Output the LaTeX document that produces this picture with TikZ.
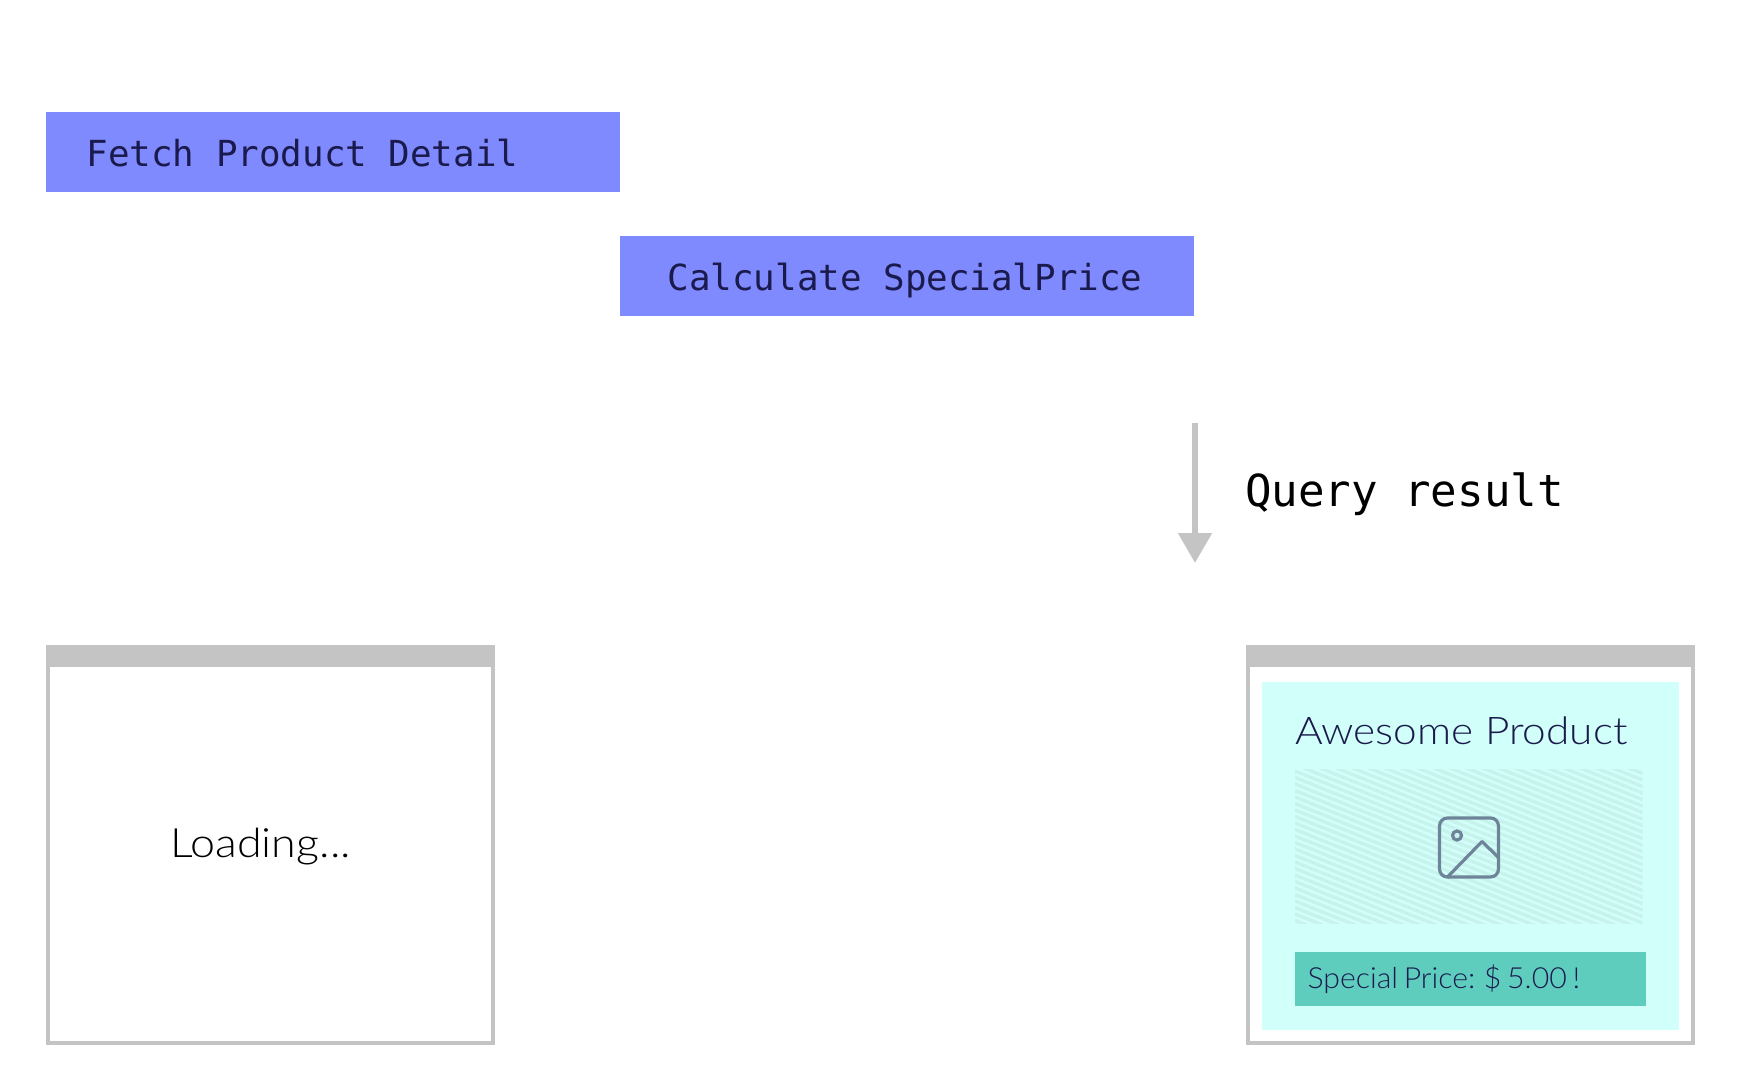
\documentclass[tikz,border=0pt]{standalone}
\usepackage{fontspec}
\usetikzlibrary{arrows.meta}
\newfontfamily\avp[FakeStretch=1.04,WordSpace=0.7]{Lato Light}
\newfontfamily\avw[FakeStretch=1.11]{Lato Light}
\newfontfamily\mn{DejaVu Sans Mono}
\definecolor{taskblue}{HTML}{7F8AFF}
\definecolor{navy}{HTML}{1A1A4D}
\definecolor{wingray}{HTML}{C4C4C4}
\definecolor{cardcyan}{HTML}{D1FFF9}
\definecolor{pricegreen}{HTML}{5FCDBE}
\definecolor{hatchline}{HTML}{C8F2EC}
\definecolor{iconslate}{HTML}{6E8499}
\tikzset{
  sized/.style 2 args={minimum width=#1*0.75pt,minimum height=#2*0.75pt,inner sep=0pt,outer sep=0pt,anchor=north west},
  task/.style={sized={574}{80},fill=taskblue},
  lbl/.style={inner sep=0pt,outer sep=0pt,anchor=base west},
  monotext/.style={lbl,text=navy,font=\mn\fontsize{26.9}{30}\selectfont},
  titlebar/.style={sized={449}{22},fill=wingray},
  winframe/.style={sized={445}{396},draw=wingray,line width=3pt,fill=white},
  flowarrow/.style={draw=wingray,line width=4.5pt,-{Triangle[length=22.5pt,width=24.5pt,fill=wingray]}},
}
\begin{document}
\begin{tikzpicture}[x=0.75pt,y=-0.75pt]
\useasboundingbox (0,0) rectangle (1760,1084);
\node[task] (fetch) at (46,112.5) {};
\node[monotext] (fetchtext) at (86.5,166.5) {Fetch Product Detail};
\node[task] (calc) at (620,236.5) {};
\node[monotext] (calctext) at (667.5,290.5) {Calculate SpecialPrice};
\coordinate (arrowstart) at (1195,423);
\coordinate (arrowend) at (1195,563);
\draw[flowarrow] (arrowstart) -- (arrowend);
\node[lbl,font=\mn\fontsize{33.1}{36}\selectfont] (query) at (1245,506) {Query result};
% left window
\node[winframe] (leftwin) at (48,647) {};
\node[titlebar] (leftbar) at (46,645) {};
\node[lbl,font=\avw\fontsize{30.3}{34}\selectfont] (loading) at (170,857) {Loading...};
% right window
\node[winframe] (rightwin) at (1248,647) {};
\node[titlebar] (rightbar) at (1246,645) {};
\node[sized={417}{348},fill=cardcyan] (card) at (1262,682) {};
\node[lbl,text=navy,font=\avw\fontsize{28.6}{34}\selectfont] (title) at (1295,744) {Awesome Product};
\begin{scope}
  \clip (1295,769.5) rectangle (1642.5,923.5);
  \foreach \k in {-20,...,65}{
    \draw[hatchline,line width=2.4pt] (1280,700+\k*6.5) -- (1660,700+\k*6.5+152);
  }
\end{scope}
\draw[iconslate,line width=2.4pt,rounded corners=6pt] (1439.5,818) rectangle (1498.5,877);
\draw[iconslate,line width=2.4pt] (1457,835.5) circle[radius=4.5];
\draw[iconslate,line width=2.4pt,line join=round] (1447,877.5) -- (1482,841.5) -- (1498.5,857.5);
\node[sized={351}{54},fill=pricegreen] (pricebar) at (1295,952) {};
\node[lbl,text=navy,font=\avp\fontsize{21.8}{26}\selectfont] (price) at (1307.5,988) {Special Price: \$ 5.00 !};
\end{tikzpicture}
\end{document}
